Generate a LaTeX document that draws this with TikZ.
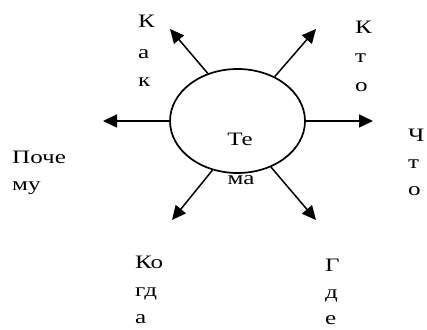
\documentclass[tikz,border=0pt]{standalone}
\usepackage{fontspec}
\setmainfont[FakeStretch=1.32]{Liberation Serif}
\usetikzlibrary{shapes.geometric,arrows.meta}
\tikzset{
  lbl/.style={anchor=base west,inner sep=0pt,font=\fontsize{19}{19}\selectfont},
  lblc/.style={anchor=base,inner sep=0pt,font=\fontsize{19}{19}\selectfont},
  ray/.style={line width=1.5pt,-{Triangle[length=14pt,width=13pt]}},
  topic/.style={ellipse,draw,line width=1.7pt,fill=white,minimum width=135pt,minimum height=104pt,inner sep=0pt}
}
\begin{document}
\begin{tikzpicture}[x=1pt,y=-1pt]
\useasboundingbox (0,0) rectangle (427,329);
% lower part of the centre word, partly hidden by the ellipse
\node[lblc] (t2) at (241,184) {ма};
\node[topic] (T) at (237.5,121) {};
\node[lblc] (t1) at (240,145) {Те};
% end points
\coordinate (eL) at (103,121);
\coordinate (eR) at (373,121);
\coordinate (eUL) at (170,29);
\coordinate (eUR) at (316,29);
\coordinate (eDL) at (172,220);
\coordinate (eDR) at (316,220);
\draw[ray] (T.180) -- (eL);
\draw[ray] (T.0) -- (eR);
\draw[ray] (T.122) -- (eUL);
\draw[ray] (T.50) -- (eUR);
\draw[ray] (T.243) -- (eDL);
\draw[ray] (T.306) -- (eDR);
% Как
\node[lbl] (a1) at (138,28) {К};
\node[lbl] (a2) at (138,58) {а};
\node[lbl] (a3) at (138,86) {к};
% Кто
\node[lbl] (b1) at (355,34) {К};
\node[lbl] (b2) at (355,62) {т};
\node[lbl] (b3) at (355,91) {о};
% Что
\node[lbl] (c1) at (408,141) {Ч};
\node[lbl] (c2) at (408,168) {т};
\node[lbl] (c3) at (408,195) {о};
% Почему
\node[lbl] (d1) at (12,163) {Поче};
\node[lbl] (d2) at (12,190) {му};
% Когда
\node[lbl] (e1) at (135,268) {Ко};
\node[lbl] (e2) at (135,296) {гд};
\node[lbl] (e3) at (135,323) {а};
% Где
\node[lbl] (f1) at (325,271) {Г};
\node[lbl] (f2) at (325,298) {д};
\node[lbl] (f3) at (325,324) {е};
\end{tikzpicture}
\end{document}
